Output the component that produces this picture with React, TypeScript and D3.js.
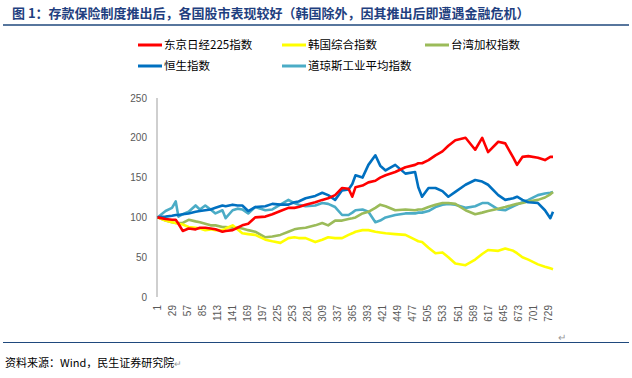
import React from "react";
import * as d3 from "d3";

const days = [1, 16, 28, 35, 40, 48, 59, 72, 80, 90, 100, 109, 122, 128, 141, 150, 159, 170, 183, 202, 215, 230, 245, 256, 264, 277, 295, 308, 319, 332, 345, 357, 364, 370, 383, 394, 407, 416, 426, 444, 463, 481, 487, 494, 506, 519, 532, 543, 556, 575, 593, 606, 617, 636, 649, 664, 671, 681, 692, 710, 723, 733, 738];

const nikkei = [100, 98, 97, 97, 92, 83, 86, 85, 87, 87, 86, 85, 82, 83, 84, 87, 90, 92, 100, 101, 104, 108, 112, 112, 113, 116, 119, 122, 124, 128, 137, 136, 126, 138, 140, 144, 146, 150, 153, 157, 163, 166, 168, 168, 172, 178, 183, 190, 197, 200, 185, 200, 182, 195, 193, 175, 166, 176, 177, 175, 172, 176, 176];
const kospi = [100, 96, 94, 93, 92, 91, 88, 87, 86, 84, 85, 84, 84, 86, 90, 85, 80, 79, 78, 72, 70, 68, 74, 75, 74, 74, 69, 72, 75, 74, 74, 78, 80, 82, 84, 84, 82, 81, 80, 79, 78, 72, 70, 69, 62, 55, 56, 50, 42, 40, 47, 54, 59, 58, 61, 58, 55, 50, 47, 41, 38, 36, 35];
const twse = [100, 96, 94, 93, 93, 93, 97, 95, 94, 92, 90, 90, 88, 88, 87, 87, 86, 84, 82, 75, 76, 78, 82, 85, 86, 87, 90, 93, 90, 96, 96, 98, 99, 100, 105, 107, 112, 116, 114, 109, 110, 109, 110, 110, 113, 116, 118, 118, 117, 109, 104, 106, 108, 111, 113, 116, 117, 118, 120, 122, 125, 129, 132];
const hsi = [100, 101, 102, 103, 103, 104, 105, 107, 108, 109, 110, 112, 115, 114, 116, 115, 115, 108, 113, 114, 117, 116, 116, 119, 120, 124, 127, 131, 128, 122, 134, 135, 142, 153, 150, 166, 178, 165, 159, 166, 155, 157, 138, 126, 137, 137, 133, 126, 132, 141, 147, 145, 141, 128, 122, 124, 126, 122, 119, 118, 109, 99, 107];
const dji = [100, 108, 112, 120, 101, 104, 107, 115, 110, 115, 110, 105, 109, 99, 109, 111, 110, 105, 113, 109, 110, 116, 122, 118, 116, 114, 115, 118, 117, 113, 103, 103, 106, 109, 110, 107, 94, 96, 100, 103, 105, 105, 106, 106, 108, 113, 116, 117, 116, 112, 114, 118, 118, 110, 109, 114, 116, 119, 122, 128, 130, 131, 132];

const yTicks = [0, 50, 100, 150, 200, 250];
const xTicks = d3.range(1, 730, 28);

const seriesNames = ["东京日经225指数", "韩国综合指数", "台湾加权指数", "恒生指数", "道琼斯工业平均指数"];
const seriesColors = ["#FF0000", "#FFFF00", "#9BBB59", "#0070C0", "#4BACC6"];
const seriesValues = [nikkei, kospi, twse, hsi, dji];

const title = "图 1：存款保险制度推出后，各国股市表现较好（韩国除外，因其推出后即遭遇金融危机）";
const source = "资料来源：Wind，民生证券研究院";

export default function App() {
  const x = d3.scaleLinear().domain([1, 738]).range([157.5, 553]);
  const y = d3.scaleLinear().domain([0, 250]).range([297, 98]);
  const line = d3
    .line<number>()
    .x((_, i) => x(days[i]))
    .y((d) => y(d));

  // draw order: light blue, green, yellow, blue, red (red on top)
  const order = [4, 2, 1, 3, 0];
  const legendPos = [
    [138, 45],
    [282, 45],
    [425, 45],
    [138, 66],
    [282, 66],
  ];
  const cjk = "'Noto Sans CJK SC', 'Noto Sans', sans-serif";
  const num = "'Liberation Sans', Arial, sans-serif";

  return (
    <svg
      width={632}
      height={378}
      style={{ position: "absolute", left: 0, top: 0, background: "#fff" }}
    >
      <text x={12} y={18} fontFamily={cjk} fontWeight={700} fontSize={13} fill="#1F3F80">
        {title}
      </text>
      <line x1={3} x2={629} y1={25} y2={25} stroke="#1F497D" strokeWidth={1.5} />

      {seriesNames.map((n, i) => (
        <g key={n}>
          <line
            x1={legendPos[i][0]}
            x2={legendPos[i][0] + 24}
            y1={legendPos[i][1]}
            y2={legendPos[i][1]}
            stroke={seriesColors[i]}
            strokeWidth={3}
          />
          <text
            x={legendPos[i][0] + 26}
            y={legendPos[i][1]}
            dy="0.36em"
            fontFamily={cjk}
            fontSize={11.5}
            fill="#000"
          >
            {n}
          </text>
        </g>
      ))}

      <line x1={157} x2={157} y1={y(250)} y2={y(0)} stroke="#BFBFBF" strokeWidth={1.5} />
      {yTicks.map((t) => (
        <text
          key={t}
          x={147}
          y={y(t)}
          dy="0.35em"
          textAnchor="end"
          fontFamily={num}
          fontSize={10}
          fill="#595959"
        >
          {t}
        </text>
      ))}
      {xTicks.map((t) => (
        <text
          key={t}
          transform={`translate(${x(t)},305) rotate(-90)`}
          dy="0.35em"
          textAnchor="end"
          fontFamily={num}
          fontSize={10}
          fill="#595959"
        >
          {t}
        </text>
      ))}

      {order.map((i) => (
        <path
          key={i}
          d={line(seriesValues[i]) || ""}
          fill="none"
          stroke={seriesColors[i]}
          strokeWidth={2.6}
          strokeLinejoin="round"
        />
      ))}

      <text x={558} y={341} fontFamily={num} fontSize={10} fill="#999">↵</text>
      <line x1={3} x2={629} y1={342.5} y2={342.5} stroke="#1F497D" strokeWidth={1.2} />
      <text x={5} y={367} fontFamily={cjk} fontSize={11} fill="#000">
        {source}
        <tspan fill="#999" fontSize={9}>↵</tspan>
      </text>
    </svg>
  );
}
